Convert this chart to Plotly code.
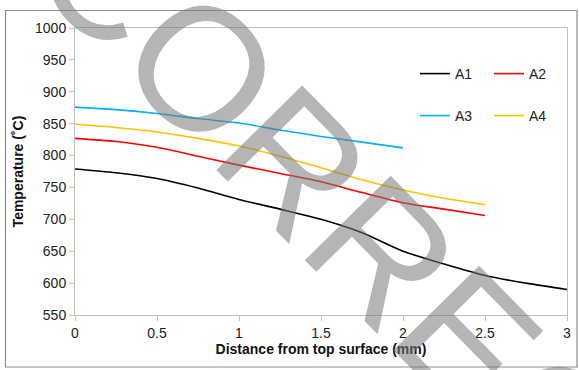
import plotly.graph_objects as go

x_a = [0, 0.25, 0.5, 0.75, 1, 1.25, 1.5, 1.75, 2, 2.25, 2.5, 2.75, 3]
a1 = [779, 773, 764, 749, 731, 716, 700, 679, 650, 630, 612, 600, 590]
x_b = [0, 0.25, 0.5, 0.75, 1, 1.25, 1.5, 1.75, 2, 2.25, 2.5]
a2 = [827, 822, 813, 799, 785, 772, 759, 742, 726, 716, 706]
a4 = [849, 844, 837, 827, 815, 799, 781, 762, 746, 733, 723]
x_c = [0, 0.25, 0.5, 0.75, 1, 1.25, 1.5, 1.75, 2]
a3 = [876, 872, 866, 858, 851, 840, 830, 821, 812]

names = ["A1", "A2", "A3", "A4"]
colors = ["#000000", "#FF0000", "#00B0F0", "#FFC000"]

W, H = 579, 370
L, R, T, B = 75, 12, 28, 55
pw, ph = W - L - R, H - T - B

def px(xp):
    return (xp - L) / pw

def py(yp):
    return (H - B - yp) / ph

fig = go.Figure()
series = [(x_a, a1, "legend"), (x_b, a2, "legend"), (x_c, a3, "legend2"), (x_b, a4, "legend2")]
for (xs, ys, lg), nm, c in zip(series, names, colors):
    fig.add_trace(go.Scatter(x=xs, y=ys, name=nm, mode="lines",
                             line=dict(color=c, width=1.6, shape="spline", smoothing=0.8),
                             legend=lg))

font = "Liberation Sans, Arial, sans-serif"
leg = dict(orientation="h", xref="paper", yref="paper", xanchor="left", yanchor="middle",
           bgcolor="rgba(0,0,0,0)", font=dict(family=font, size=14, color="#222"),
           entrywidth=29, entrywidthmode="pixels", tracegroupgap=0)
fig.update_layout(
    width=W, height=H,
    margin=dict(l=L, r=R, t=T, b=B, autoexpand=False),
    paper_bgcolor="white", plot_bgcolor="white",
    font=dict(family=font, size=14, color="#222"),
    showlegend=True,
    legend=dict(leg, x=px(415), y=py(74)),
    legend2=dict(leg, x=px(415), y=py(116)),
    xaxis=dict(range=[0, 3], dtick=0.5, showgrid=False, zeroline=False,
               showline=True, linecolor="#BFBFBF", linewidth=1, mirror=True,
               ticks="outside", ticklen=5, tickcolor="#BFBFBF", automargin=False,
               tickfont=dict(size=14, color="#222"),
               title=dict(text="<b>Distance from top surface (mm)</b>", font=dict(size=14, color="#111"), standoff=4)),
    yaxis=dict(range=[550, 1000], dtick=50, showgrid=False, zeroline=False,
               showline=True, linecolor="#BFBFBF", linewidth=1, mirror=True,
               ticks="outside", ticklen=5, tickcolor="#BFBFBF", automargin=False,
               tickfont=dict(size=14, color="#222"),
               title=dict(text="<b>Temperature (˚C)</b>", font=dict(size=14, color="#111"), standoff=8)),
)

fig.add_shape(type="rect", xref="paper", yref="paper",
              x0=px(5.5), x1=px(577), y0=py(367), y1=py(10.5),
              line=dict(color="#8C8C8C", width=1.2), layer="below")

fig.add_annotation(text="CORRECTED", xref="paper", yref="paper",
                   x=px(454), y=py(325), xanchor="center", yanchor="middle",
                   showarrow=False, textangle=45.5,
                   font=dict(family=font, size=175, color="rgba(120,120,120,0.55)"))

fig.write_html("out.html", config={"displayModeBar": False},
               post_script="document.body.style.margin='0px';")
